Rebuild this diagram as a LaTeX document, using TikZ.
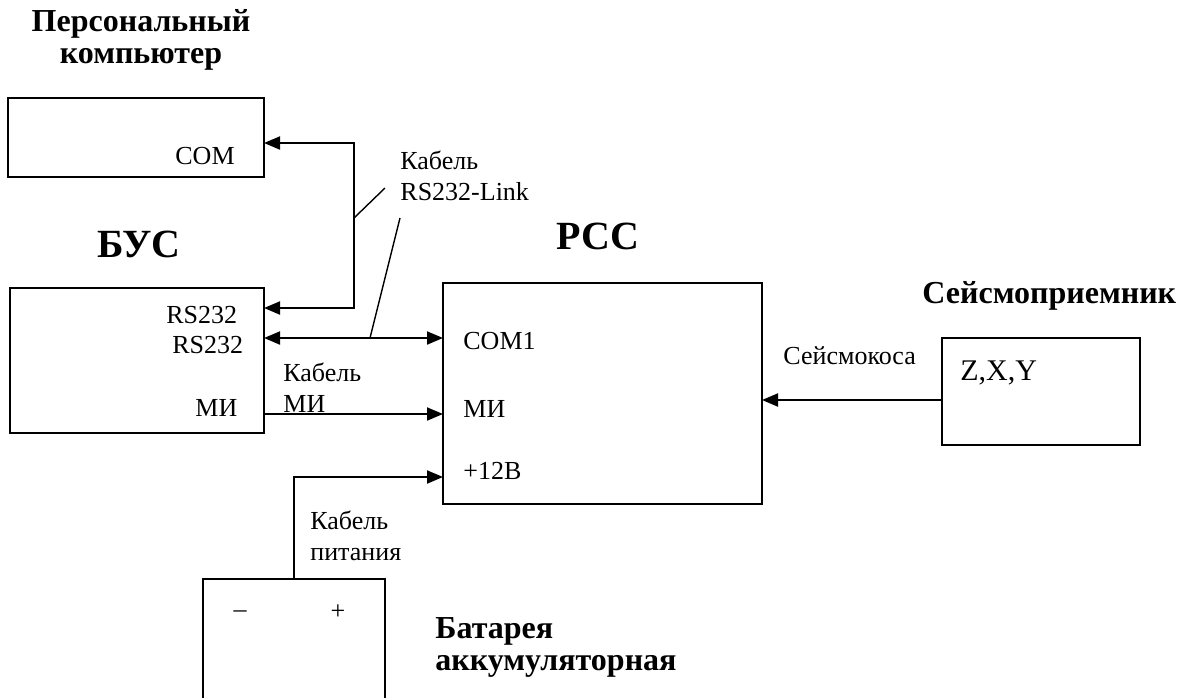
\documentclass[tikz,border=0pt]{standalone}
\usepackage{fontspec}
\setmainfont{Liberation Serif}
\usetikzlibrary{positioning,arrows.meta}
\tikzset{
  blk/.style  ={rectangle, draw=black, line width=1pt, inner sep=0pt},
  port/.style ={inner sep=0pt, anchor=base west, font=\fontsize{13}{15}\selectfont},
  note/.style ={inner sep=0pt, anchor=base west, align=left,
                font=\fontsize{13}{15.5}\selectfont},
  ttl/.style  ={inner sep=0pt, anchor=base, align=center,
                font=\fontsize{16}{16}\selectfont\bfseries},
  big/.style  ={inner sep=0pt, anchor=base, font=\fontsize{20}{22}\selectfont\bfseries},
  arr/.style  ={-{Triangle[length=8pt,width=6.5pt]}, line width=1pt},
  darr/.style ={{Triangle[length=8pt,width=6.5pt]}-{Triangle[length=8pt,width=6.5pt]},
                line width=1pt},
  lead/.style ={line width=0.7pt},
}

\begin{document}
\begin{tikzpicture}[x=0.5pt, y=-0.5pt]
  \useasboundingbox (0,0) rectangle (1192,697);

  % personal computer
  \node[ttl] (pctitle) at (141,63) {Персональный\\компьютер};
  \node[blk, minimum width=128pt, minimum height=39.5pt] (pc) at (136,137.5) {};
  \node[port] (pccom) at (175,164) {COM};

  % control unit
  \node[big] (bustitle) at (139,257) {БУС};
  \node[blk, minimum width=127pt, minimum height=72.5pt] (bus) at (137,360.5) {};
  \node[port] (busrsa) at (166,323) {RS232};
  \node[port] (busrsb) at (172,353) {RS232};
  \node[port] (busmi) at (195,416) {МИ};

  % recorder
  \node[big] (rsstitle) at (598,249) {РСС};
  \node[blk, minimum width=159.5pt, minimum height=110.5pt] (rss) at (602.5,393.5) {};
  \node[port] (rsscom) at (463,349) {COM1};
  \node[port] (rssmi) at (463,417) {МИ};
  \node[port] (rsspwr) at (463,479) {+12В};

  % geophone
  \node[ttl, anchor=base west] (seistitle) at (922,303) {Сейсмоприемник};
  \node[blk, minimum width=99pt, minimum height=53.5pt] (seis) at (1041,391.5) {};
  \node[port, font=\fontsize{15}{17}\selectfont] (seisaxes) at (960,380) {Z,X,Y};

  % battery
  \node[blk, minimum width=91pt, minimum height=70.5pt] (bat) at (294,649.5) {};
  \node[port, anchor=center] (batminus) at (240,614) {–};
  \node[port, anchor=center] (batplus) at (338,612) {+};
  \node[ttl, anchor=base west, align=left] (battitle) at (435,670)
       {Батарея\\аккумуляторная};

  % cable labels
  \node[note] (cabrs) at (400,200) {Кабель\\RS232-Link};
  \node[note] (cabmi) at (283,412) {Кабель\\МИ};
  \node[note] (cabpwr) at (310,560) {Кабель\\питания};
  \node[port] (cabseis) at (783,364) {Сейсмокоса};

  % port points
  \coordinate (pcport) at (264,143);
  \coordinate (busporta) at (264,308);
  \coordinate (busportb) at (264,338);
  \coordinate (busportmi) at (264,414);
  \coordinate (rssportcom) at (443,338);
  \coordinate (rssportmi) at (443,414);
  \coordinate (rssportpwr) at (443,477);
  \coordinate (rssportseis) at (762,400);
  \coordinate (seisport) at (942,400);
  \coordinate (rsjoin) at (354,218);
  \coordinate (comjoin) at (370,338);
  \coordinate (leadenda) at (385,188);
  \coordinate (leadendb) at (400,218);

  % connectors
  \draw[darr] (pcport) -| (rsjoin) |- (busporta);
  \draw[darr] (busportb) -- (rssportcom);
  \draw[arr] (busportmi) -- (rssportmi);
  \draw[arr] (bat.north) |- (rssportpwr);
  \draw[arr] (seisport) -- (rssportseis);

  % leader lines to the cable label
  \draw[lead] (rsjoin) -- (leadenda);
  \draw[lead] (comjoin) -- (leadendb);
\end{tikzpicture}
\end{document}
